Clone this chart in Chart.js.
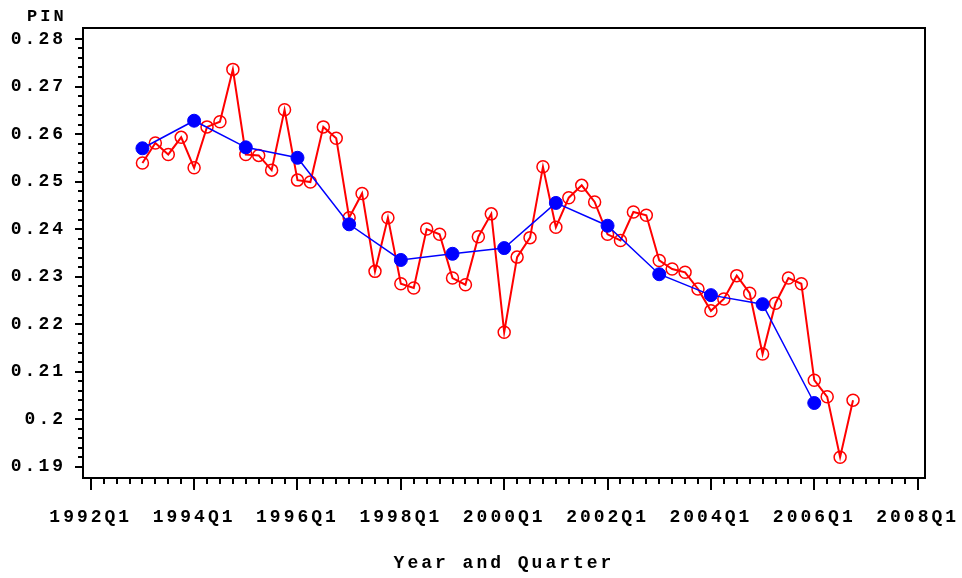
<!DOCTYPE html>
<html>
<head>
<meta charset="utf-8">
<title>PIN by Year and Quarter</title>
<script src="https://cdn.jsdelivr.net/npm/chart.js@4/dist/chart.umd.min.js"></script>
<style>
  html, body { margin: 0; padding: 0; background: #fff; }
  #wrap { width: 962px; height: 578px; }
</style>
</head>
<body>
<div id="wrap"><canvas id="pinChart" width="962" height="578"></canvas></div>
<script>
// -------------------------------
// data
// -------------------------------
const annualYears = [1993, 1994, 1995, 1996, 1997, 1998, 1999, 2000, 2001, 2002, 2003, 2004, 2005, 2006];
const annualPin = [0.2570, 0.2628, 0.2572, 0.2550, 0.2410, 0.2335, 0.2348, 0.2360,
                   0.2455, 0.2407, 0.2305, 0.2261, 0.2242, 0.2034];

const quarterYears = [1993, 1994, 1995, 1996, 1997, 1998, 1999, 2000, 2001, 2002, 2003, 2004, 2005, 2006];
const quarterNames = ['Q1', 'Q2', 'Q3', 'Q4'];
const quarterlyPin = [
  0.2539, 0.2581, 0.2557, 0.2593,   // 1993
  0.2529, 0.2615, 0.2626, 0.2736,   // 1994
  0.2557, 0.2555, 0.2524, 0.2651,   // 1995
  0.2503, 0.2499, 0.2615, 0.2591,   // 1996
  0.2424, 0.2475, 0.2311, 0.2424,   // 1997
  0.2285, 0.2276, 0.2400, 0.2389,   // 1998
  0.2297, 0.2283, 0.2384, 0.2432,   // 1999
  0.2183, 0.2341, 0.2382, 0.2531,   // 2000
  0.2404, 0.2466, 0.2492, 0.2457,   // 2001
  0.2389, 0.2376, 0.2436, 0.2429,   // 2002
  0.2334, 0.2316, 0.2309, 0.2274,   // 2003
  0.2228, 0.2253, 0.2302, 0.2265,   // 2004
  0.2137, 0.2244, 0.2297, 0.2285,   // 2005
  0.2082, 0.2047, 0.1920, 0.2040    // 2006
];

const xTickLabels = ['1992Q1', '1994Q1', '1996Q1', '1998Q1', '2000Q1', '2002Q1', '2004Q1', '2006Q1', '2008Q1'];
const yTickValues = [0.19, 0.20, 0.21, 0.22, 0.23, 0.24, 0.25, 0.26, 0.27, 0.28];

// quarter label -> position on the axis (quarters since 1992Q1)
const BASE_YEAR = 1992;
function quarterPos(label) {
  const year = parseInt(label.slice(0, 4));
  const q = parseInt(label.slice(5));
  return (year - BASE_YEAR) * 4 + (q - 1);
}

const quarterLabels = [];
quarterYears.forEach(yr => quarterNames.forEach(q => quarterLabels.push(yr + q)));

const redPoints = quarterLabels.map((lab, i) => ({ x: quarterPos(lab), y: quarterlyPin[i] }));
const bluePoints = annualYears.map((yr, i) => ({ x: quarterPos(yr + 'Q1'), y: annualPin[i] }));

const FONT = { family: "'Liberation Mono', 'DejaVu Sans Mono', monospace", size: 18, weight: 'bold' };

// -------------------------------
// frame, quarterly / minor ticks and the "PIN" label
// -------------------------------
const sasFrame = {
  id: 'sasFrame',
  beforeLayout(chart) { chart.ctx.letterSpacing = '3px'; },
  beforeDraw(chart) { chart.ctx.letterSpacing = '3px'; },
  afterDraw(chart) {
    const { ctx, chartArea: a, scales: { x, y } } = chart;
    ctx.save();
    ctx.strokeStyle = '#000';
    ctx.lineWidth = 2;
    ctx.strokeRect(a.left, a.top, a.right - a.left, a.bottom - a.top);

    ctx.beginPath();
    for (let q = 0; q <= 64; q++) {
      const px = Math.round(x.getPixelForValue(q));
      const len = q % 8 === 0 ? 11 : 5;
      ctx.moveTo(px, a.bottom + 1);
      ctx.lineTo(px, a.bottom + 1 + len);
    }
    for (let i = 0; i <= 45; i++) {
      const py = Math.round(y.getPixelForValue(0.19 + i * 0.002));
      const len = i % 5 === 0 ? 7 : 4;
      ctx.moveTo(a.left - 1, py);
      ctx.lineTo(a.left - 1 - len, py);
    }
    ctx.stroke();

    ctx.fillStyle = '#000';
    ctx.font = 'bold 17px ' + FONT.family;
    ctx.textAlign = 'left';
    ctx.textBaseline = 'alphabetic';
    ctx.fillText('PIN', 27, 21);
    ctx.restore();
  }
};

new Chart(document.getElementById('pinChart'), {
  type: 'line',
  data: {
    datasets: [
      {
        label: 'Annual PIN',
        data: bluePoints,
        borderColor: 'rgb(0, 0, 255)',
        borderWidth: 1.5,
        pointRadius: 6.5,
        pointBackgroundColor: 'rgb(0, 0, 255)',
        pointBorderColor: 'rgb(0, 0, 255)',
        pointBorderWidth: 1,
        tension: 0
      },
      {
        label: 'Quarterly PIN',
        data: redPoints,
        borderColor: 'rgb(255, 0, 0)',
        borderWidth: 2,
        pointRadius: 6,
        pointBackgroundColor: 'rgba(0, 0, 0, 0)',
        pointBorderColor: 'rgb(255, 0, 0)',
        pointBorderWidth: 1.5,
        tension: 0
      }
    ]
  },
  options: {
    responsive: false,
    animation: false,
    devicePixelRatio: 1,
    layout: { padding: { top: 28, right: 37, left: 0, bottom: 0 } },
    plugins: { legend: { display: false }, tooltip: { enabled: false } },
    scales: {
      x: {
        type: 'linear',
        min: -0.6,
        max: 64.57,
        grid: { display: false, drawTicks: false },
        border: { display: false },
        afterBuildTicks: scale => { scale.ticks = xTickLabels.map(l => ({ value: quarterPos(l) })); },
        afterFit: scale => { scale.height = 100; scale.paddingLeft = 0; scale.paddingRight = 0; },
        ticks: {
          autoSkip: false,
          maxRotation: 0,
          padding: 29,
          color: '#000',
          font: FONT,
          callback: v => xTickLabels.find(l => quarterPos(l) === v) || ''
        },
        title: {
          display: true,
          text: 'Year and Quarter',
          color: '#000',
          font: FONT,
          padding: { top: 0, bottom: 4 }
        }
      },
      y: {
        min: 0.18762,
        max: 0.28231,
        grid: { display: false, drawTicks: false },
        border: { display: false },
        afterBuildTicks: scale => { scale.ticks = yTickValues.map(v => ({ value: v })); },
        afterFit: scale => { scale.width = 83; scale.paddingTop = 0; scale.paddingBottom = 0; },
        ticks: {
          padding: 17,
          color: '#000',
          font: FONT,
          callback: v => String(Number(v.toFixed(2)))
        }
      }
    }
  },
  plugins: [sasFrame]
});
</script>
</body>
</html>
